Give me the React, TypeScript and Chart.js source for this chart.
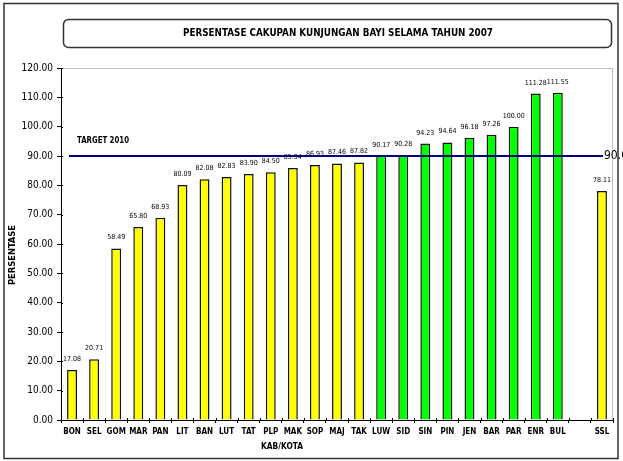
import React, { useEffect, useRef } from "react";
import { Chart, registerables } from "chart.js";

Chart.register(...registerables);

const TITLE = "PERSENTASE CAKUPAN KUNJUNGAN BAYI SELAMA TAHUN 2007";
const Y_TITLE = "PERSENTASE";
const X_TITLE = "KAB/KOTA";
const TARGET_LABEL = "TARGET 2010";
const TARGET_VALUE = 90;

const categories = [
  "BON", "SEL", "GOM", "MAR", "PAN", "LIT", "BAN", "LUT", "TAT", "PLP", "MAK", "SOP", "MAJ",
  "TAK", "LUW", "SID", "SIN", "PIN", "JEN", "BAR", "PAR", "ENR", "BUL", "", "SSL",
];

const values: (number | null)[] = [
  17.08, 20.71, 58.49, 65.8, 68.93, 80.09, 82.08, 82.83, 83.9, 84.5, 85.94, 86.93, 87.46,
  87.82, 90.17, 90.28, 94.23, 94.64, 96.18, 97.26, 100.0, 111.28, 111.55, null, 78.11,
];

const yMin = 0;
const yMax = 120;
const yStep = 10;

const FONT = "'Liberation Sans Narrow', 'DejaVu Sans Condensed', Arial, sans-serif";

function fitText(ctx: CanvasRenderingContext2D, text: string, x: number, y: number, width: number) {
  const w = ctx.measureText(text).width;
  const s = width / w;
  ctx.save();
  ctx.translate(x, y);
  ctx.scale(s, 1);
  ctx.textAlign = "center";
  ctx.fillText(text, 0, 0);
  ctx.restore();
}

const decorPlugin = {
  id: "decor",
  beforeDraw(chart: any) {
    const ctx: CanvasRenderingContext2D = chart.ctx;
    const { left, right, top, bottom } = chart.chartArea;
    ctx.save();
    ctx.fillStyle = "#fff";
    ctx.fillRect(0, 0, chart.width, chart.height);
    // outer border
    ctx.strokeStyle = "#333";
    ctx.lineWidth = 1.5;
    ctx.strokeRect(4, 3.5, 614, 455);
    // title box
    ctx.beginPath();
    (ctx as any).roundRect(63.5, 19.5, 548, 28, 5);
    ctx.lineWidth = 1.5;
    ctx.strokeStyle = "#333";
    ctx.stroke();
    ctx.fillStyle = "#000";
    ctx.font = `bold 10px ${FONT}`;
    ctx.textBaseline = "middle";
    fitText(ctx, TITLE, 338, 33, 310);
    // plot frame top/right
    ctx.strokeStyle = "#bdbdbd";
    ctx.lineWidth = 1;
    ctx.beginPath();
    ctx.moveTo(left, top + 0.5);
    ctx.lineTo(right - 0.5, top + 0.5);
    ctx.lineTo(right - 0.5, bottom);
    ctx.stroke();
    // y title
    ctx.save();
    ctx.translate(13, 255);
    ctx.rotate(-Math.PI / 2);
    ctx.fillStyle = "#000";
    ctx.font = `bold 8px ${FONT}`;
    ctx.textBaseline = "middle";
    fitText(ctx, Y_TITLE, 0, 0, 60);
    ctx.restore();
    // x title
    ctx.fillStyle = "#000";
    ctx.font = `bold 8px ${FONT}`;
    ctx.textBaseline = "middle";
    fitText(ctx, X_TITLE, 282, 447, 42);
    ctx.restore();
  },
  afterDatasetsDraw(chart: any) {
    const ctx: CanvasRenderingContext2D = chart.ctx;
    const { left, right, top, bottom } = chart.chartArea;
    const ys = chart.scales.y;
    ctx.save();
    // inner halves of tick marks
    ctx.strokeStyle = "#000";
    ctx.lineWidth = 1;
    for (let v = yMin; v <= yMax; v += yStep) {
      const py = Math.round(ys.getPixelForValue(v)) + 0.5;
      ctx.beginPath();
      ctx.moveTo(left, py);
      ctx.lineTo(left + 2, py);
      ctx.stroke();
    }
    for (let i = 0; i <= categories.length; i++) {
      const px = Math.round(left + ((right - left) * i) / categories.length) + 0.5;
      ctx.beginPath();
      ctx.moveTo(px, bottom);
      ctx.lineTo(px, bottom - 2);
      ctx.stroke();
    }
    // data labels
    const meta = chart.getDatasetMeta(0);
    ctx.fillStyle = "#000";
    ctx.font = `7px ${FONT}`;
    ctx.textAlign = "center";
    ctx.textBaseline = "alphabetic";
    meta.data.forEach((bar: any, i: number) => {
      const v = values[i];
      if (v == null) return;
      ctx.fillText(v.toFixed(2), bar.x, bar.y - 9);
    });
    // target line
    const ty = ys.getPixelForValue(TARGET_VALUE);
    ctx.strokeStyle = "#000080";
    ctx.lineWidth = 2;
    ctx.beginPath();
    ctx.moveTo(left + 8, ty);
    ctx.lineTo(right - 10, ty);
    ctx.stroke();
    ctx.fillStyle = "#000";
    ctx.font = `bold 8px ${FONT}`;
    ctx.textBaseline = "middle";
    fitText(ctx, TARGET_LABEL, 103, ty - 15, 52);
    ctx.font = `12px ${FONT}`;
    ctx.textAlign = "left";
    ctx.fillText(TARGET_VALUE.toFixed(1), right - 9, ty);
    ctx.restore();
  },
};

export default function App() {
  const ref = useRef<HTMLCanvasElement | null>(null);

  useEffect(() => {
    if (!ref.current) return;
    const chart = new Chart(ref.current, {
      type: "bar",
      data: {
        labels: categories,
        datasets: [
          {
            data: values as any,
            backgroundColor: values.map((v) => (v != null && v >= TARGET_VALUE ? "#00ff00" : "#ffff00")),
            borderColor: "#111",
            borderWidth: 1.5,
            barPercentage: 0.45,
            categoryPercentage: 1,
          },
        ],
      },
      options: {
        responsive: false,
        animation: false,
        devicePixelRatio: 1,
        layout: { padding: { left: 0, right: 10, top: 68, bottom: 0 } },
        plugins: {
          legend: { display: false },
          title: { display: false },
          tooltip: { enabled: false },
        },
        scales: {
          x: {
            grid: {
              display: true,
              drawOnChartArea: false,
              tickLength: 3,
              color: "#000",
              offset: true,
            },
            border: { display: true, color: "#000", width: 1 },
            ticks: {
              color: "#000",
              font: { family: FONT, size: 8, weight: "bold" },
              maxRotation: 0,
              minRotation: 0,
              autoSkip: false,
              padding: 4,
            },
            afterFit: (s: any) => {
              s.height = 41;
            },
          },
          y: {
            min: yMin,
            max: yMax,
            grid: {
              display: true,
              drawOnChartArea: false,
              tickLength: 4,
              color: "#000",
            },
            border: { display: true, color: "#000", width: 1 },
            ticks: {
              stepSize: yStep,
              color: "#000",
              font: { family: FONT, size: 10 },
              padding: 4,
              callback: (v: any) => Number(v).toFixed(2),
            },
            afterFit: (s: any) => {
              s.width = 61;
            },
          },
        },
      },
      plugins: [decorPlugin],
    });
    return () => chart.destroy();
  }, []);

  return (
    <div style={{ position: "fixed", left: 0, top: 0, width: 623, height: 461, background: "#fff" }}>
      <canvas ref={ref} width={623} height={461} style={{ display: "block" }} />
    </div>
  );
}
